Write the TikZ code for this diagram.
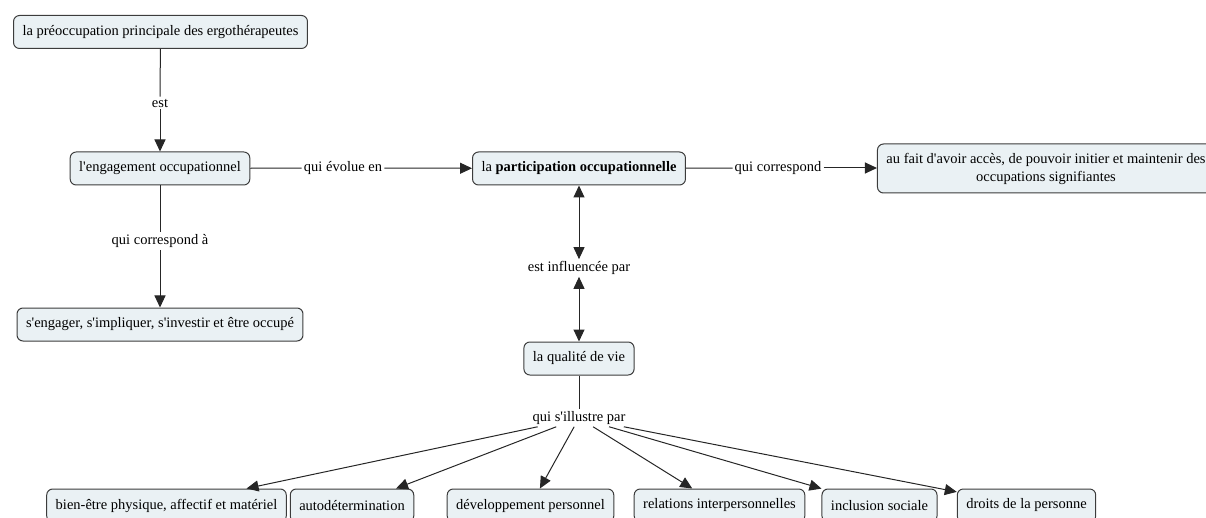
\documentclass[tikz,border=0pt]{standalone}
\usepackage{fontspec}
\setmainfont{Liberation Serif}[Ligatures=TeXOff]
\usetikzlibrary{arrows.meta}
\definecolor{boxfill}{RGB}{234,241,244}
\definecolor{boxline}{RGB}{60,60,60}
\tikzset{
  concept/.style={draw=boxline, fill=boxfill, rounded corners=6pt, line width=1pt,
    inner xsep=9pt, inner ysep=0pt, minimum height=33pt, font=\fontsize{14.5}{18}\selectfont},
  linkl/.style={inner sep=2pt, font=\fontsize{14.5}{18}\selectfont},
  conn/.style={line width=1pt, draw=black!85},
  tip/.style={-{Triangle[length=12pt,width=11pt]}},
  bitip/.style={{Triangle[length=12pt,width=11pt]}-{Triangle[length=12pt,width=11pt]}}
}
\begin{document}
\begin{tikzpicture}[x=1pt,y=-1pt]
\useasboundingbox (0,0) rectangle (1206,518);
% concepts
\node[concept] (n1) at (160.5,32) {la préoccupation principale des ergothérapeutes};
\node[concept] (n2) at (160,168.5) {l'engagement occupationnel};
\node[concept] (n3) at (579,168.5) {la \textbf{participation occupationnelle}};
\node[concept, align=center, minimum height=49pt] (n4) at (1046,168.5) {au fait d'avoir accès, de pouvoir initier et maintenir des\\occupations signifiantes};
\node[concept] (n5) at (160,324.5) {s'engager, s'impliquer, s'investir et être occupé};
\node[concept] (n6) at (579,358.5) {la qualité de vie};
\node[concept] (b1) at (166.5,505.5) {bien-être physique, affectif et matériel};
\node[concept] (b2) at (352,505.5) {autodétermination};
\node[concept] (b3) at (530.5,505.5) {développement personnel};
\node[concept] (b4) at (719.5,505.5) {relations interpersonnelles};
\node[concept] (b5) at (879.5,505.5) {inclusion sociale};
\node[concept] (b6) at (1026.5,505.5) {droits de la personne};
% link labels
\node[linkl] (l1) at (160,103) {est};
\node[linkl] (l2) at (343,168) {qui évolue en};
\node[linkl] (l3) at (778,168) {qui correspond};
\node[linkl] (l4) at (160,241) {qui correspond à};
\node[linkl] (l5) at (579,268) {est influencée par};
\node[linkl] (l6) at (579,418) {qui s'illustre par};
% connectors
\draw[conn] (n1) -- (l1);
\draw[conn,tip] (l1) -- (n2);
\draw[conn] (n2) -- (l2);
\draw[conn,tip] (l2) -- (n3);
\draw[conn] (n3) -- (l3);
\draw[conn,tip] (l3) -- (n4.west |- l3);
\draw[conn] (n2) -- (l4);
\draw[conn,tip] (l4) -- (n5);
\draw[conn,bitip] (n3) -- (l5);
\draw[conn,bitip] (l5) -- (n6);
\draw[conn] (n6) -- (l6);
\foreach \b in {b1,b2,b3,b4,b5,b6}{\draw[conn,tip] (l6) -- (\b);}
\end{tikzpicture}
\end{document}
